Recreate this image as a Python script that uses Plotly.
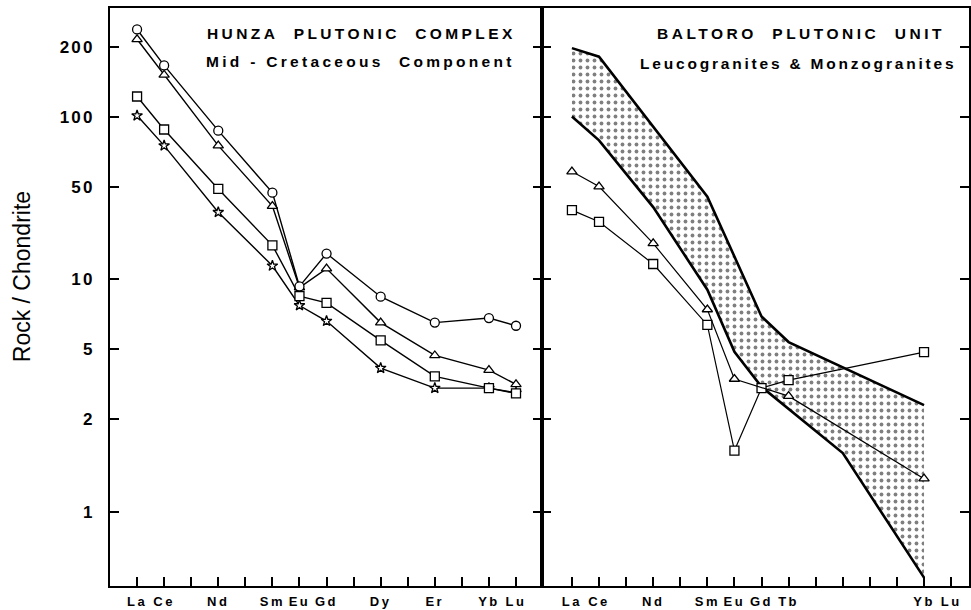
import numpy as np
import plotly.graph_objects as go

# ---------------- data ----------------
ree = ["La", "Ce", "Pr", "Nd", "Pm", "Sm", "Eu", "Gd", "Tb", "Dy", "Ho", "Er", "Tm", "Yb", "Lu"]

# Hunza Plutonic Complex (left panel)
hunza_elements = ["La", "Ce", "Nd", "Sm", "Eu", "Gd", "Dy", "Er", "Yb", "Lu"]
hunza_circle = [237, 166, 87, 45, 9.3, 15.6, 8.4, 6.5, 6.8, 6.3]
hunza_triangle = [215, 151, 75, 35.6, 9.2, 12.0, 6.5, 4.6, 3.8, 3.15]
hunza_square = [122, 88, 48, 18, 8.45, 7.9, 5.45, 3.5, 3.0, 2.8]
hunza_star = [101, 75, 32, 12.6, 7.7, 6.6, 3.9, 3.0, 3.0, 2.82]

# Baltoro Plutonic Unit (right panel)
balt_tri_elements = ["La", "Ce", "Nd", "Sm", "Eu", "Tb", "Yb"]
balt_triangle = [58, 50, 18.6, 7.4, 3.38, 2.7, 1.28]
balt_sq_elements = ["La", "Ce", "Nd", "Sm", "Eu", "Gd", "Tb", "Yb"]
balt_square = [33.2, 27.1, 13.0, 6.35, 1.58, 3.0, 3.33, 4.8]
band_upper_elements = ["La", "Ce", "Sm", "Gd", "Tb", "Yb"]
band_upper = [197, 181, 42, 6.9, 5.36, 2.4]
band_lower_elements = ["La", "Ce", "Nd", "Sm", "Eu", "Gd", "Ho", "Yb"]
band_lower = [100, 79, 35, 9.0, 4.83, 3.05, 1.55, 0.52]

# printed y-axis ticks and the position (geometric log value) at which each is printed
y_tick_labels = [1, 2, 5, 10, 50, 100, 200]
y_tick_geo = [1, 2.5, 5, 10, 25, 50, 100]

left_tick_labels = ["La", "Ce", "", "Nd", "", "Sm", "Eu", "Gd", "", "Dy", "", "Er", "", "Yb", "Lu"]
right_tick_labels = ["La", "Ce", "", "Nd", "", "Sm", "Eu", "Gd", "Tb", "", "", "", "", "Yb", "Lu"]

# ---------------- helpers ----------------
LAB = np.log10(y_tick_labels)
GEO = np.log10(y_tick_geo)


def to_axis(vals):
    lv = np.log10(np.asarray(vals, dtype=float))
    g = np.interp(lv, LAB, GEO)
    g = np.where(lv < LAB[0], lv - LAB[0] + GEO[0], g)
    g = np.where(lv > LAB[-1], lv - LAB[-1] + GEO[-1], g)
    return 10 ** g


def xi(names):
    return [ree.index(n) for n in names]


def spaced(t, s):
    return '<span style="letter-spacing:%.1fpx">%s</span>' % (s, t) if t else ""


fig = go.Figure()

# ---- band (right panel) ----
ux, uy = xi(band_upper_elements), list(to_axis(band_upper))
lx, ly = xi(band_lower_elements), list(to_axis(band_lower))
fig.add_trace(go.Scatter(
    x=ux + lx[::-1], y=uy + ly[::-1], xaxis="x2", yaxis="y2",
    mode="lines", fill="toself", line=dict(width=0, color="rgba(0,0,0,0)"),
    fillcolor="rgba(0,0,0,0)",
    fillpattern=dict(shape=".", size=7, solidity=0.24, fgcolor="black",
                     bgcolor="rgba(0,0,0,0)"),
    hoverinfo="skip", showlegend=False))
for bx, by in ((ux, uy), (lx, ly)):
    fig.add_trace(go.Scatter(x=bx, y=by, xaxis="x2", yaxis="y2", mode="lines",
                             line=dict(color="black", width=2.6), showlegend=False))

mk = dict(color="white", line=dict(color="black", width=1.3))

# ---- left panel series ----
hx = xi(hunza_elements)
for vals, sym, size in ((hunza_star, "star", 8), (hunza_square, "square", 9),
                        (hunza_triangle, "triangle-up", 9), (hunza_circle, "circle", 9)):
    fig.add_trace(go.Scatter(x=hx, y=to_axis(vals), xaxis="x", yaxis="y",
                             mode="lines+markers",
                             line=dict(color="black", width=1.4),
                             marker=dict(symbol=sym, size=size, **mk), showlegend=False))

# ---- right panel series ----
fig.add_trace(go.Scatter(x=xi(balt_sq_elements), y=to_axis(balt_square), xaxis="x2", yaxis="y2",
                         mode="lines+markers", line=dict(color="black", width=1.2),
                         marker=dict(symbol="square", size=9, **mk), showlegend=False))
fig.add_trace(go.Scatter(x=xi(balt_tri_elements), y=to_axis(balt_triangle), xaxis="x2", yaxis="y2",
                         mode="lines+markers", line=dict(color="black", width=1.2),
                         marker=dict(symbol="triangle-up", size=9, **mk), showlegend=False))

# ---------------- layout ----------------
W, H = 971, 610
ml, mr, mt, mb = 110, 0, 8, 24
pw = W - ml - mr
split = (543 - ml) / pw

yr = [-0.320, 2.166]
tickfont_y = dict(family="Liberation Sans", size=17, color="black", weight="bold")
tickfont_x = dict(family="Liberation Sans", size=13, color="black", weight="bold")

common_x = dict(showgrid=False, zeroline=False, showline=True, linecolor="black", linewidth=2,
                mirror=True, ticks="inside", ticklen=9, tickwidth=1.5, tickcolor="black",
                tickvals=list(range(len(ree))), tickfont=tickfont_x, ticklabelstandoff=2)
common_y = dict(type="log", range=yr, showgrid=False, zeroline=False, showline=True,
                linecolor="black", linewidth=2, mirror="ticks", ticks="inside", ticklen=9,
                tickwidth=1.5, tickcolor="black", tickvals=y_tick_geo)

fig.update_layout(
    width=W, height=H, margin=dict(l=ml, r=mr, t=mt, b=mb),
    paper_bgcolor="white", plot_bgcolor="white", showlegend=False,
    xaxis=dict(domain=[0, split], range=[-1.0, 14.96],
               ticktext=[spaced(t, 2.5) for t in left_tick_labels], anchor="y", **common_x),
    xaxis2=dict(domain=[split, 1], range=[-1.105, 14.66],
                ticktext=[spaced(t, 2.5) for t in right_tick_labels], anchor="y2", **common_x),
    yaxis=dict(domain=[0, 1], anchor="x", tickfont=tickfont_y, ticklabelstandoff=10,
               ticktext=[spaced(str(v), 2.2) for v in y_tick_labels], **common_y),
    yaxis2=dict(domain=[0, 1], anchor="x2", showticklabels=False, **common_y),
)

tfont = dict(family="Liberation Sans", size=15.5, color="black", weight="bold")


def py(ypix):
    return 1 - (ypix - mt) / (H - mt - mb)


def px(xpix):
    return (xpix - ml) / pw


anns = [
    (px(362), py(33), "HUNZA&nbsp;&nbsp;PLUTONIC&nbsp;&nbsp;COMPLEX", 3.4),
    (px(361), py(62), "Mid&nbsp;-&nbsp;Cretaceous&nbsp;&nbsp;Component", 3.3),
    (px(803), py(33), "BALTORO&nbsp;&nbsp;PLUTONIC&nbsp;&nbsp;UNIT", 3.5),
    (px(800), py(63), "Leucogranites&nbsp;&amp;&nbsp;Monzogranites", 2.8),
]
for ax, ay, txt, s in anns:
    fig.add_annotation(x=ax, y=ay, xref="paper", yref="paper", text=spaced(txt, s),
                       showarrow=False, xanchor="center", yanchor="middle", font=tfont)

fig.add_annotation(x=px(22), y=py(277), xref="paper", yref="paper", text="Rock / Chondrite",
                   textangle=-90, showarrow=False, xanchor="center", yanchor="middle",
                   font=dict(family="Liberation Sans", size=23, color="black"))

fig.write_html("out.html")
